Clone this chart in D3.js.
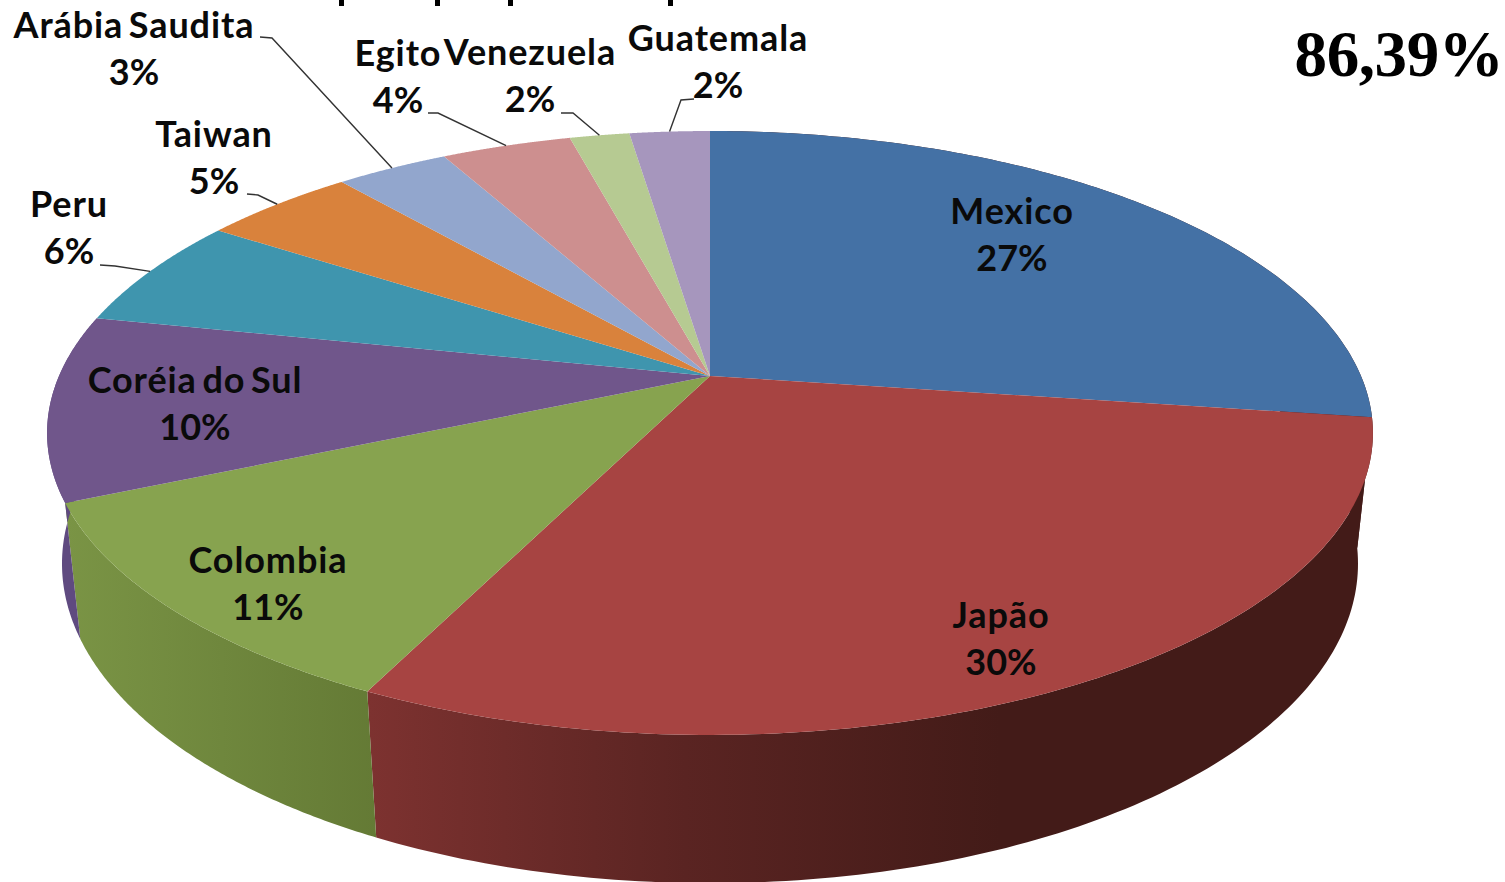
<!DOCTYPE html>
<html>
<head>
<meta charset="utf-8">
<script src="https://cdn.jsdelivr.net/npm/d3@7"></script>
<style>
  html, body { margin: 0; background: #fff; overflow: hidden; }
  text { font-family: Lato, sans-serif; font-weight: 700; fill: #0a0a0a; }
</style>
</head>
<body>
<svg id="chart" width="1505" height="882"></svg>
<script>
const categories = ['Mexico', 'Japão', 'Colombia', 'Coréia do Sul', 'Peru', 'Taiwan', 'Arábia Saudita', 'Egito', 'Venezuela', 'Guatemala'];
const sliceValues = [27.2, 30.0, 11.2, 9.9, 6.0, 4.5, 3.3, 3.8, 1.75, 2.35];
const percentLabels = ['27%', '30%', '11%', '10%', '6%', '5%', '3%', '4%', '2%', '2%'];
const sliceColors = ['#4471a5', '#a74442', '#87a34f', '#70568b', '#3f95ae', '#d9823c', '#92a6cd', '#cd8f8f', '#b6ca92', '#a696bd'];
const totalLabel = '86,39%';

// label centres, and the start of the leader line where there is one
const labelX = [1012, 1001, 268, 195, 69, 214, 134, 398, 530, 718];
const labelY = [212, 616, 561, 381, 205, 135, 26, 54, 53, 39];
const leaderStart = [null, null, null, null, [100, 265, 115, 266], [247, 194, 258, 195], [260, 37, 272, 38], [428, 113, 438, 113], [561, 113, 573, 113], [694, 99, 681, 100]];

// the title is cut off by the picture's top edge, only these descenders are left
const titleStubs = [339, 435, 508, 668];

const svg = d3.select('#chart');

// pie seen in perspective: unit circle -> screen, centre of the pie stays on the hub
const hub = { x: 710, y: 376 };
const k = -0.1887, a = 651, b = 291.2;
const vanish = { x: 710, y: 6300 };
const depth = 0.0222;

const topPoint = ang => {
    const u = Math.sin(ang), v = -Math.cos(ang);
    const w = 1 + k * v;
    return [hub.x + a * u / w, hub.y + b * v / w];
};
const bottomPoint = ang => {
    const v = -Math.cos(ang);
    const w = 1 + k * v;
    const t = depth / (w + depth);
    const p = topPoint(ang);
    return [p[0] + t * (vanish.x - p[0]), p[1] + t * (vanish.y - p[1])];
};

const pie = d3.pie().sort(null).value(d => d)(sliceValues);
const color = d3.scaleOrdinal().domain(categories).range(sliceColors);
const line = d3.line();

const arcAngles = (a0, a1) => d3.range(0, 121).map(i => a0 + (a1 - a0) * i / 120);

// gradients on the side wall
const defs = svg.append('defs');
const wallGradient = (id, x1, x2, stops) => {
    const g = defs.append('linearGradient')
        .attr('id', id)
        .attr('gradientUnits', 'userSpaceOnUse')
        .attr('x1', x1).attr('x2', x2)
        .attr('y1', 0).attr('y2', 0);
    stops.forEach(s => g.append('stop').attr('offset', s[0]).attr('stop-color', s[1]));
};
wallGradient('wall1', 369, 1000, [[0, '#7d3230'], [0.5, '#5a2422'], [1, '#431b18']]);
wallGradient('wall2', 66, 378, [[0, '#7a9445'], [1, '#647a35']]);

const wallFill = ['#431b18', 'url(#wall1)', 'url(#wall2)', '#5f4a80'];

// side walls first (only the front slices show), the top faces go over them
svg.append('g').selectAll('path')
    .data(pie.slice(0, 4))
    .enter()
    .append('path')
        .attr('d', d => {
            const angs = arcAngles(d.startAngle, d.endAngle);
            return line(angs.map(topPoint).concat(angs.reverse().map(bottomPoint))) + 'Z';
        })
        .attr('fill', (d, i) => wallFill[i]);

svg.append('g').selectAll('path')
    .data(pie)
    .enter()
    .append('path')
        .attr('d', d => line([[hub.x, hub.y]].concat(arcAngles(d.startAngle, d.endAngle).map(topPoint))) + 'Z')
        .attr('fill', (d, i) => color(categories[i]));

// leader lines end on the rim, in the middle of their slice
svg.append('g').selectAll('path')
    .data(pie.filter((d, i) => leaderStart[i]))
    .enter()
    .append('path')
        .attr('d', d => {
            const s = leaderStart[d.index];
            return line([[s[0], s[1]], [s[2], s[3]], topPoint((d.startAngle + d.endAngle) / 2)]);
        })
        .attr('fill', 'none')
        .attr('stroke', '#333')
        .attr('stroke-width', 1.4);

const labels = svg.append('g').selectAll('text')
    .data(categories)
    .enter()
    .append('text')
        .attr('text-anchor', 'middle')
        .style('font-size', '36px');

labels.append('tspan')
    .attr('x', (d, i) => labelX[i])
    .attr('y', (d, i) => labelY[i] + 12)
    .style('letter-spacing', '0.9px')
    .style('word-spacing', '-4px')
    .text(d => d);

labels.append('tspan')
    .attr('x', (d, i) => labelX[i])
    .attr('y', (d, i) => labelY[i] + 59)
    .text((d, i) => percentLabels[i]);

svg.append('g').selectAll('rect')
    .data(titleStubs)
    .enter()
    .append('rect')
        .attr('x', d => d)
        .attr('y', 0)
        .attr('width', 5)
        .attr('height', 6)
        .attr('fill', '#000');

svg.append('text')
    .attr('x', 1399)
    .attr('y', 76)
    .attr('text-anchor', 'middle')
    .style('font-family', '"Liberation Serif", serif')
    .style('font-size', '65px')
    .style('letter-spacing', '-0.4px')
    .style('fill', '#000')
    .text(totalLabel);
</script>
</body>
</html>
